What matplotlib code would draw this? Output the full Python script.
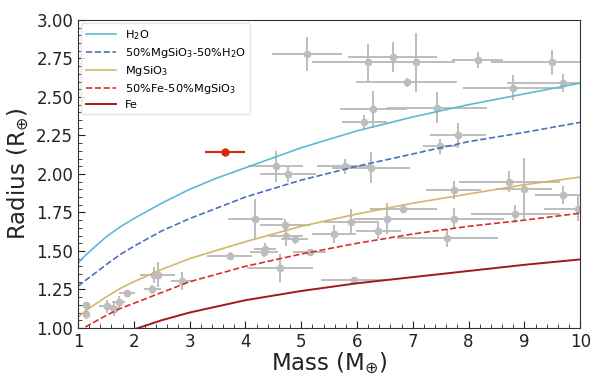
import matplotlib.pyplot as plt
import numpy as np
from matplotlib.ticker import MultipleLocator

# model curves (mass grid, radius)
mass_grid = [1.0, 1.1, 1.25, 1.5, 1.75, 2.0, 2.5, 3.0, 3.5, 4.0, 5.0, 6.0, 7.0, 8.0, 9.0, 10.0]
r_h2o = [1.42, 1.46, 1.51, 1.59, 1.655, 1.71, 1.81, 1.90, 1.975, 2.04, 2.17, 2.28, 2.37, 2.45, 2.52, 2.59]
r_mix_h2o = [1.27, 1.30, 1.34, 1.41, 1.475, 1.53, 1.63, 1.71, 1.78, 1.85, 1.96, 2.05, 2.13, 2.21, 2.27, 2.335]
r_mgsio3 = [1.07, 1.10, 1.14, 1.20, 1.255, 1.30, 1.38, 1.45, 1.505, 1.56, 1.66, 1.74, 1.81, 1.87, 1.93, 1.98]
r_mix_fe = [0.975, 1.0, 1.03, 1.08, 1.125, 1.16, 1.23, 1.30, 1.35, 1.40, 1.48, 1.55, 1.61, 1.66, 1.70, 1.745]
r_fe = [0.86, 0.88, 0.91, 0.95, 0.97, 0.99, 1.05, 1.10, 1.14, 1.18, 1.24, 1.29, 1.33, 1.37, 1.41, 1.445]

# observed planets
obs_mass = [1.14, 1.14, 1.52, 1.64, 1.73, 1.88, 2.33, 2.37, 2.43, 2.86,
            3.72, 4.18, 4.33, 4.35, 4.62, 4.71, 4.73, 4.88, 5.15, 5.59,
            5.90, 5.95, 6.38, 6.54, 6.83, 7.62, 7.73, 7.73, 8.73, 9.00,
            8.84, 9.69, 9.96, 4.54, 4.76, 5.78, 6.25, 7.49, 7.81, 6.13,
            6.29, 7.43, 6.89, 8.80, 9.69, 5.11, 6.19, 6.64, 7.05, 8.16, 9.50]
obs_radius = [1.15, 1.09, 1.14, 1.125, 1.17, 1.225, 1.25, 1.345, 1.345, 1.305,
              1.47, 1.71, 1.49, 1.51, 1.39, 1.67, 1.60, 1.575, 1.49, 1.61,
              1.69, 1.31, 1.63, 1.71, 1.775, 1.585, 1.71, 1.895, 1.95, 1.905,
              1.74, 1.865, 1.775, 2.05, 2.00, 2.05, 2.04, 2.18, 2.25, 2.335,
              2.42, 2.43, 2.595, 2.56, 2.59, 2.78, 2.725, 2.76, 2.725, 2.74, 2.725]
obs_mass_err = [0.05, 0.05, 0.15, 0.12, 0.12, 0.15, 0.15, 0.25, 0.3, 0.2,
                0.4, 0.5, 0.25, 0.2, 0.6, 0.45, 0.3, 0.25, 0.3, 0.4,
                0.5, 0.6, 0.4, 0.6, 0.6, 0.9, 0.9, 0.5, 0.9, 0.5,
                0.8, 0.5, 0.6, 0.5, 0.5, 0.5, 0.7, 0.3, 0.5, 0.4,
                0.6, 0.9, 0.9, 0.9, 1.0, 0.63, 1.0, 0.8, 0.7, 0.45, 1.1]
obs_radius_err = [0.02, 0.03, 0.04, 0.05, 0.04, 0.02, 0.03, 0.05, 0.08, 0.06,
                  0.02, 0.13, 0.03, 0.04, 0.09, 0.04, 0.07, 0.03, 0.02, 0.06,
                  0.08, 0.02, 0.05, 0.1, 0.03, 0.06, 0.07, 0.06, 0.07, 0.2,
                  0.06, 0.06, 0.08, 0.1, 0.05, 0.05, 0.1, 0.05, 0.08, 0.05,
                  0.12, 0.1, 0.03, 0.08, 0.06, 0.11, 0.12, 0.1, 0.19, 0.05, 0.08]

# highlighted planet
target_mass = 3.63
target_radius = 2.14
target_mass_err = 0.36

fig, ax = plt.subplots(figsize=(6, 3.84), dpi=100)
fig.subplots_adjust(left=0.13, right=0.967, top=0.948, bottom=0.146)

ax.errorbar(obs_mass, obs_radius, xerr=obs_mass_err, yerr=obs_radius_err,
            fmt="o", color="#bdbdbd", ms=4.5, elinewidth=1.4, capsize=0, zorder=1)

ax.plot(mass_grid, r_h2o, color="#5bbad5", lw=1.2, label=r"H$_2$O", zorder=2)
ax.plot(mass_grid, r_mix_h2o, color="#4a70c0", lw=1.2, ls="--",
        label=r"50%MgSiO$_3$-50%H$_2$O", zorder=2)
ax.plot(mass_grid, r_mgsio3, color="#d2b670", lw=1.2, label=r"MgSiO$_3$", zorder=2)
ax.plot(mass_grid, r_mix_fe, color="#d83030", lw=1.2, ls="--",
        label=r"50%Fe-50%MgSiO$_3$", zorder=2)
ax.plot(mass_grid, r_fe, color="#a31818", lw=1.4, label="Fe", zorder=2)

ax.errorbar([target_mass], [target_radius], xerr=[target_mass_err],
            fmt="o", color="#d42a10", ms=5, elinewidth=1.5, capsize=0, zorder=3)

ax.set_xlim(1, 10)
ax.set_ylim(1.0, 3.0)
ax.xaxis.set_major_locator(MultipleLocator(1))
ax.xaxis.set_minor_locator(MultipleLocator(0.2))
ax.yaxis.set_major_locator(MultipleLocator(0.25))
ax.yaxis.set_minor_locator(MultipleLocator(0.05))
ax.yaxis.set_major_formatter(plt.FormatStrFormatter("%.2f"))
ax.tick_params(which="both", direction="in", labelsize=12, colors="#222222")
ax.tick_params(which="major", length=5)
ax.tick_params(which="minor", length=3)
for s in ax.spines.values():
    s.set_color("#333333")

ax.set_xlabel(r"Mass (M$_{\oplus}$)", fontsize=16.5, labelpad=0, color="#222222")
ax.set_ylabel(r"Radius (R$_{\oplus}$)", fontsize=16.5, labelpad=3, color="#222222")

ax.legend(loc="upper left", fontsize=8.2, handlelength=2.6, labelspacing=0.35,
          borderaxespad=0.3, framealpha=0.8, edgecolor="#dddddd")

plt.savefig("out.png", dpi=100)
